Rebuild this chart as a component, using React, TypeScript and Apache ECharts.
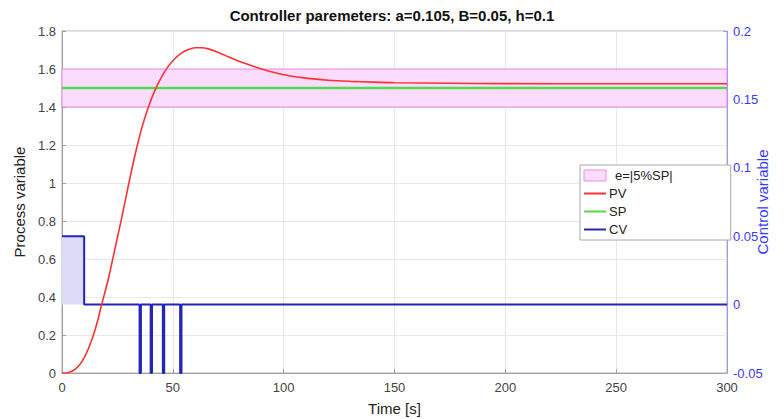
import React, { useEffect, useRef } from "react";
import * as echarts from "echarts";

const titleText = "Controller paremeters: a=0.105, B=0.05, h=0.1";

const pvT = [0, 3, 6, 9, 12, 15, 18, 21, 24, 27, 30, 33, 36, 39, 42, 45, 48, 51, 54, 57, 60, 63, 66, 70, 75, 80, 85, 90, 100, 110, 120, 130, 140, 150, 175, 200, 250, 300];
const pvV = [0, 0.003, 0.02, 0.06, 0.13, 0.23, 0.365, 0.5, 0.66, 0.82, 0.99, 1.15, 1.29, 1.4, 1.49, 1.56, 1.615, 1.655, 1.685, 1.703, 1.712, 1.712, 1.706, 1.69, 1.665, 1.64, 1.62, 1.6, 1.57, 1.552, 1.541, 1.535, 1.531, 1.528, 1.525, 1.523, 1.522, 1.522];

const spT = [0, 300];
const spV = [1.5, 1.5];

const bandLow = 1.4;
const bandHigh = 1.6;

const cvT = [0, 10, 10, 35, 35, 35.6, 35.6, 40, 40, 40.6, 40.6, 45.5, 45.5, 46.1, 46.1, 53.3, 53.3, 53.9, 53.9, 300];
const cvV = [0.05, 0.05, 0, 0, -0.05, -0.05, 0, 0, -0.05, -0.05, 0, 0, -0.05, -0.05, 0, 0, -0.05, -0.05, 0, 0];

const legendNames = ["e=|5%SP|", "PV", "SP", "CV"];

const FONT = "Liberation Sans";

export default function App() {
  const ref = useRef<HTMLDivElement>(null);
  useEffect(() => {
    if (!ref.current) return;
    const chart = echarts.init(ref.current, undefined, { renderer: "svg" });
    const zip = (t: number[], v: number[]) => t.map((x, i) => [x, v[i]]);
    const fmt = (v: number) => String(+v.toFixed(2));
    const hideSym = { opacity: 0 };
    chart.setOption({
      animation: false,
      backgroundColor: "#fff",
      textStyle: { fontFamily: FONT },
      title: {
        text: titleText,
        left: "center",
        top: 3,
        textStyle: { fontFamily: FONT, fontSize: 15, fontWeight: "bold", color: "#111" },
      },
      grid: {
        left: 62,
        right: 57,
        top: 31,
        bottom: 46,
        show: true,
        borderColor: "#b0b0b0",
        borderWidth: 1,
        containLabel: false,
        outerBoundsMode: "none",
      },
      legend: {
        orient: "vertical",
        left: 580,
        top: 165,
        itemGap: 5,
        itemWidth: 22,
        itemHeight: 11,
        padding: [4, 58, 4, 3],
        borderColor: "#a8a8a8",
        borderWidth: 1,
        backgroundColor: "#fff",
        selectedMode: false,
        textStyle: { fontFamily: FONT, fontSize: 13, color: "#222", padding: [0, 0, 0, -2] },
        data: [
          { name: legendNames[0], icon: "rect", itemStyle: { color: "#fcdcfc", borderColor: "#e88ce8", borderWidth: 1 }, textStyle: { padding: [0, 0, 0, 4] } },
          { name: legendNames[1], itemStyle: hideSym },
          { name: legendNames[2], itemStyle: hideSym },
          { name: legendNames[3], itemStyle: hideSym },
        ],
      },
      xAxis: {
        type: "value",
        min: 0,
        max: 300,
        interval: 50,
        name: "Time [s]",
        nameLocation: "middle",
        nameGap: 28,
        nameTextStyle: { fontFamily: FONT, fontSize: 15, color: "#222" },
        axisLine: { show: true, onZero: false, lineStyle: { color: "#a0a0a0" } },
        axisTick: { show: true, inside: true, length: 4, lineStyle: { color: "#a0a0a0" } },
        axisLabel: { fontFamily: FONT, fontSize: 13, color: "#444", margin: 8 },
        splitLine: { show: true, lineStyle: { color: "#e8e8e8" } },
      },
      yAxis: [
        {
          type: "value",
          min: 0,
          max: 1.8,
          interval: 0.2,
          name: "Process variable",
          nameLocation: "middle",
          nameGap: 35,
          nameTextStyle: { fontFamily: FONT, fontSize: 15, color: "#222" },
          axisLine: { show: true, lineStyle: { color: "#a0a0a0" } },
          axisTick: { show: true, inside: true, length: 4, lineStyle: { color: "#a0a0a0" } },
          axisLabel: { fontFamily: FONT, fontSize: 13, color: "#444", margin: 6, formatter: fmt },
          splitLine: { show: true, lineStyle: { color: "#e8e8e8" } },
        },
        {
          type: "value",
          min: -0.05,
          max: 0.2,
          interval: 0.05,
          position: "right",
          name: "Control variable",
          nameLocation: "middle",
          nameGap: 28,
          nameRotate: 90,
          nameMoveOverlap: false,
          nameTextStyle: { fontFamily: FONT, fontSize: 15, color: "#3a3aff" },
          axisLine: { show: true, lineStyle: { color: "#9a9aff" } },
          axisTick: { show: true, inside: true, length: 4, lineStyle: { color: "#9a9aff" } },
          axisLabel: { fontFamily: FONT, fontSize: 13, color: "#3a3aff", margin: 6, formatter: fmt },
          splitLine: { show: false },
        },
      ],
      series: [
        {
          name: legendNames[0],
          type: "line",
          data: [],
          symbol: "none",
          markArea: {
            silent: true,
            itemStyle: { color: "#fcdcfc", borderColor: "#e486e4", borderWidth: 1 },
            data: [[{ xAxis: spT[0], yAxis: bandLow }, { xAxis: spT[spT.length - 1], yAxis: bandHigh }]],
          },
        },
        {
          name: legendNames[3],
          type: "line",
          yAxisIndex: 1,
          data: zip(cvT, cvV),
          symbol: "none",
          lineStyle: { color: "#2424b8", width: 2 },
          itemStyle: { color: "#2424b8" },
          markArea: {
            silent: true,
            itemStyle: { color: "#dcdcf7" },
            data: [[{ xAxis: cvT[0], yAxis: 0 }, { xAxis: cvT[1], yAxis: cvV[0] }]],
          },
          z: 3,
        },
        {
          name: legendNames[2],
          type: "line",
          data: zip(spT, spV),
          symbol: "none",
          lineStyle: { color: "#4cdc4c", width: 2.5 },
          itemStyle: { color: "#4cdc4c" },
          z: 4,
        },
        {
          name: legendNames[1],
          type: "line",
          data: zip(pvT, pvV),
          symbol: "none",
          smooth: 0.3,
          lineStyle: { color: "#ff3030", width: 1.6 },
          itemStyle: { color: "#ff3030" },
          z: 5,
        },
      ],
    });
    return () => chart.dispose();
  }, []);
  return <div ref={ref} style={{ width: 784, height: 419, position: "absolute", left: 0, top: 0 }} />;
}
